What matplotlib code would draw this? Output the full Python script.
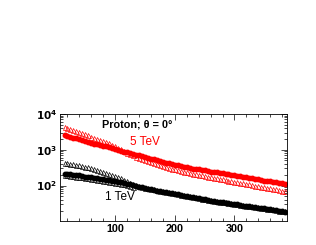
import numpy as np
import matplotlib
matplotlib.use('Agg')
import matplotlib.pyplot as plt
from matplotlib.ticker import MultipleLocator, FixedLocator, LogLocator, NullFormatter

plt.rcParams['font.family'] = ['Liberation Sans', 'DejaVu Sans']

x = list(range(15, 386, 5))

# 5 TeV, filled circles
red_circ = [2510, 2400, 2290, 2190, 2090, 1950, 1860, 1740, 1620, 1550,
            1480, 1410, 1350, 1290, 1230, 1170, 1120, 1050, 1000, 933,
            891, 851, 794, 759, 724, 692, 661, 631, 603, 562,
            537, 501, 479, 457, 437, 417, 398, 380, 363, 347,
            339, 324, 309, 295, 288, 282, 269, 263, 257, 245,
            240, 234, 229, 219, 214, 209, 200, 195, 186, 182,
            174, 170, 162, 158, 151, 148, 145, 138, 135, 132,
            126, 123, 117, 115, 112]
# 5 TeV, open triangles
red_tri = [4270, 4070, 3800, 3550, 3310, 3090, 2880, 2690, 2510, 2340,
           2190, 2040, 1910, 1780, 1620, 1510, 1380, 1260, 1120, 1020,
           912, 832, 759, 692, 646, 603, 562, 525, 490, 447,
           417, 389, 372, 347, 331, 309, 295, 282, 269, 257,
           245, 234, 224, 214, 204, 200, 191, 186, 178, 174,
           166, 158, 155, 148, 141, 138, 132, 129, 123, 120,
           115, 112, 107, 102, 100, 95, 93, 89, 87, 83,
           79, 78, 74, 72, 69]
# 1 TeV, filled circles
blk_circ = [214, 209, 204, 200, 195, 191, 186, 178, 174, 170,
            166, 158, 155, 151, 145, 141, 135, 132, 126, 123,
            117, 112, 107, 102, 98, 93, 89, 85, 81, 78,
            76, 72, 71, 68, 66, 63, 62, 59, 58, 55,
            52, 51, 49, 47, 46, 44, 42, 41, 39, 38,
            37, 35.5, 34.7, 33.9, 33.1, 31.6, 30.9, 30.2, 29.5, 28.2,
            27.5, 26.9, 26.3, 25.7, 24.5, 24.0, 23.4, 22.9, 21.9, 21.4,
            20.9, 20.4, 19.5, 19.1, 18.6]
# 1 TeV, open triangles
blk_tri = [427, 417, 398, 389, 380, 363, 355, 339, 324, 309,
           288, 269, 257, 240, 229, 214, 200, 186, 174, 158,
           145, 132, 120, 110, 102, 95, 91, 87, 83, 79,
           78, 74, 72, 69, 68, 65, 63, 60, 59, 56,
           54, 52, 50, 48, 47, 45, 43, 42, 40, 39,
           38, 36, 35.5, 34.7, 33.9, 32.4, 31.6, 30.9, 30.2, 28.8,
           28.2, 27.5, 26.9, 26.3, 25.1, 24.5, 24.0, 23.4, 22.4, 21.9,
           21.4, 20.9, 20.0, 19.5, 19.1]
# 1 TeV, open triangles (lower branch at small x)
x_low = list(range(15, 131, 5))
blk_tri_low = [195, 191, 186, 182, 178, 174, 170, 162, 158, 155,
               151, 145, 141, 138, 132, 129, 123, 120, 115, 112,
               107, 102, 98, 93]

fig = plt.figure(figsize=(3.16, 2.45), dpi=100)
ax = fig.add_axes([0.190, 0.098, 0.718, 0.437])

ax.plot(x, red_tri, linestyle='none', marker='^', ms=3.6, mfc='none',
        mec='red', mew=0.5)
ax.plot(x, red_circ, linestyle='none', marker='o', ms=3.2, color='red')
ax.plot(x, blk_tri, linestyle='none', marker='^', ms=3.6, mfc='none',
        mec='black', mew=0.5)
ax.plot(x_low, blk_tri_low, linestyle='none', marker='^', ms=3.6, mfc='none',
        mec='black', mew=0.5)
ax.plot(x, blk_circ, linestyle='none', marker='o', ms=3.2, color='black')

ax.set_yscale('log')
ax.set_xlim(7.5, 388)
ax.set_ylim(10.2, 1e4)

ax.xaxis.set_major_locator(FixedLocator([100, 200, 300]))
ax.xaxis.set_minor_locator(MultipleLocator(20))
ax.set_xticklabels(['100', '200', '300'], fontweight='bold', fontsize=7.8)
ax.yaxis.set_major_locator(FixedLocator([100, 1000, 10000]))
ax.yaxis.set_minor_locator(LogLocator(base=10, subs=np.arange(2, 10)))
ax.yaxis.set_minor_formatter(NullFormatter())
ax.set_yticklabels([r'$\mathbf{10^{2}}$', r'$\mathbf{10^{3}}$', r'$\mathbf{10^{4}}$'],
                   fontsize=7.5)

ax.tick_params(which='both', direction='in', top=True, right=True, width=0.5)
ax.tick_params(which='major', length=4, pad=2)
ax.tick_params(which='minor', length=2)
for s in ax.spines.values():
    s.set_linewidth(0.6)

ax.text(0.184, 0.897, 'Proton; θ = 0°', transform=ax.transAxes,
        fontsize=7.8, fontweight='bold', va='center', ha='left')
ax.text(0.307, 0.738, '5 TeV', transform=ax.transAxes, fontsize=8.5,
        color='red', va='center', ha='left')
ax.text(0.197, 0.224, '1 TeV', transform=ax.transAxes, fontsize=8.5,
        color='black', va='center', ha='left')

fig.savefig('out.png', dpi=100)
